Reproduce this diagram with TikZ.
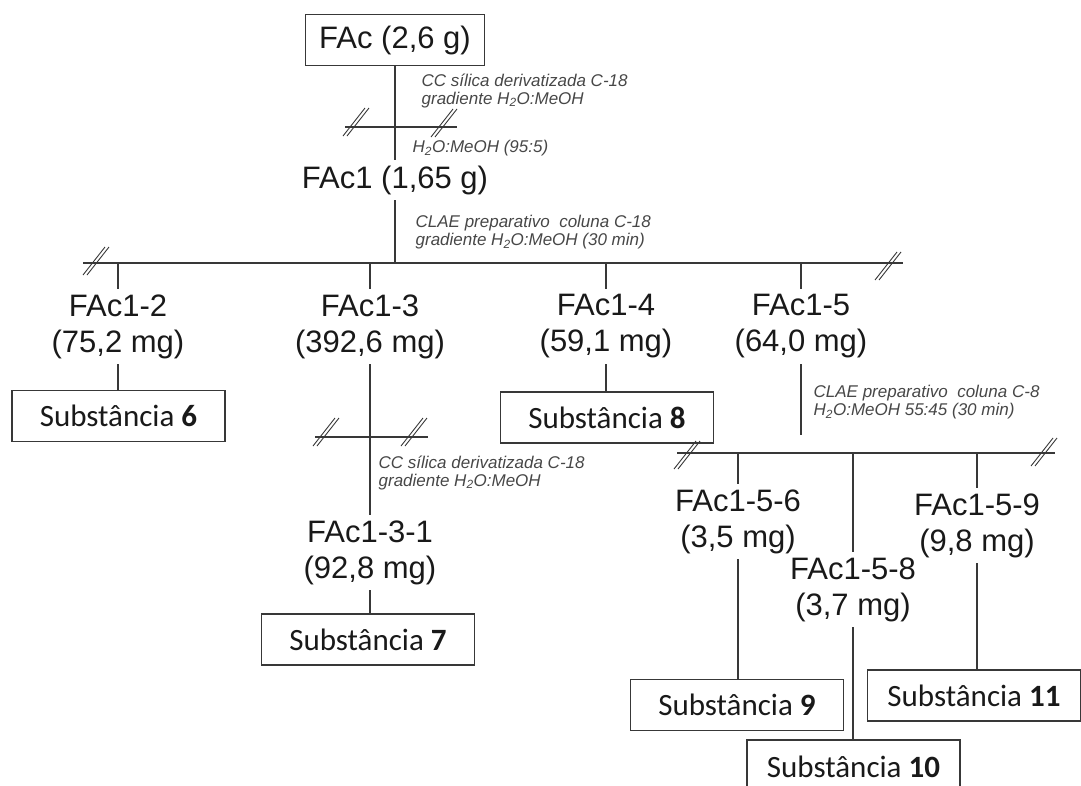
\documentclass[tikz,border=0pt]{standalone}
\usepackage{fontspec}
\setmainfont{Liberation Sans}
\newfontfamily\calibfont{Carlito}
\usetikzlibrary{positioning}

\begin{document}
\begin{tikzpicture}[x=1pt, y=-1pt, line width=1.3pt, color=black!78, >=stealth]

		% Styles
		\tikzset{
			frac/.style={align=center, anchor=north, inner xsep=2pt, inner ysep=5pt, text=black!90, font=\fontsize{31}{36}\selectfont},
			subst/.style={draw, line width=1.5pt, minimum width=213pt, minimum height=51pt, inner sep=0pt, text=black!90, font=\calibfont\fontsize{31}{34}\selectfont},
			note/.style={align=left, anchor=north west, inner sep=0pt, text=black!72, font=\fontsize{17}{18}\selectfont\itshape},
			brk/.pic={\draw[line width=0.9pt] (-13,14) -- (9,-14); \draw[line width=0.9pt] (-9,14) -- (13,-14);}
		}
		\useasboundingbox (0,0) rectangle (1081,785);

		% Nodes
		\node[draw, line width=1.5pt, minimum width=179pt, minimum height=51pt, text=black!90, font=\fontsize{31}{34}\selectfont] (fac) at (395,40) {FAc (2,6 g)};
		\node[frac] (fac1) at (395,160) {FAc1 (1,65 g)};

		\node[frac] (fac12) at (118,289) {FAc1-2\\(75,2 mg)};
		\node[frac] (fac13) at (370,289) {FAc1-3\\(392,6 mg)};
		\node[frac] (fac14) at (606,289) {FAc1-4\\(59,1 mg)};
		\node[frac] (fac15) at (801,289) {FAc1-5\\(64,0 mg)};
		\node[frac] (fac131) at (370,515) {FAc1-3-1\\(92,8 mg)};
		\node[frac] (fac156) at (738,484) {FAc1-5-6\\(3,5 mg)};
		\node[frac] (fac158) at (853,552) {FAc1-5-8\\(3,7 mg)};
		\node[frac] (fac159) at (977,488) {FAc1-5-9\\(9,8 mg)};

		\node[subst] (s6) at (118.5,416) {Substância \textbf{6}};
		\node[subst] (s7) at (368,639.5) {Substância \textbf{7}};
		\node[subst] (s8) at (607,417.5) {Substância \textbf{8}};
		\node[subst] (s9) at (737,705) {Substância \textbf{9}};
		\node[subst, minimum height=54pt] (s10) at (853.5,767) {Substância \textbf{10}};
		\node[subst] (s11) at (974,695.5) {Substância \textbf{11}};

		% Notes
		\node[note] (n1) at (421,73) {CC sílica derivatizada C-18\\gradiente H\textsubscript{2}O:MeOH};
		\node[note] (n2) at (412,140) {H\textsubscript{2}O:MeOH (95:5)};
		\node[note] (n3) at (415,215) {CLAE preparativo~ coluna C-18\\gradiente H\textsubscript{2}O:MeOH (30 min)};
		\node[note] (n4) at (378,455) {CC sílica derivatizada C-18\\gradiente H\textsubscript{2}O:MeOH};
		\node[note] (n5) at (813,385) {CLAE preparativo~ coluna C-8\\H\textsubscript{2}O:MeOH 55:45 (30 min)};

		% Bars
		\coordinate (cbtop) at (345,127);
		\coordinate (cbtopend) at (457,127);
		\coordinate (barl) at (83,263);
		\coordinate (barr) at (903,263);
		\coordinate (cbmid) at (315,437);
		\coordinate (cbmidend) at (428,437);
		\coordinate (bar2l) at (677,453);
		\coordinate (bar2r) at (1055,453);
		\coordinate (f15end) at (801,435);

		% Lines
		\draw (fac) -- (fac1);
		\draw (cbtop) -- (cbtopend);
		\draw (fac1) -- (fac1 |- barl);
		\draw (barl) -- (barr);
		\foreach \n in {fac12,fac13,fac14,fac15}
			\draw (\n |- barl) -- (\n);
		\draw (fac12) -- (fac12 |- s6.north);
		\draw (fac14) -- (fac14 |- s8.north);
		\draw (fac13) -- (fac131);
		\draw (cbmid) -- (cbmidend);
		\draw (fac131) -- (fac131 |- s7.north);
		\draw (fac15) -- (f15end);
		\draw (bar2l) -- (bar2r);
		\foreach \n in {fac156,fac158,fac159}
			\draw (\n |- bar2l) -- (\n);
		\draw (fac156) -- (fac156 |- s9.north);
		\draw (fac158) -- (fac158 |- s10.north);
		\draw (fac159) -- (fac159 |- s11.north);

		% Breaks
		\pic at (356,122) {brk};
		\pic at (444,123) {brk};
		\pic at (96,261) {brk};
		\pic at (888,266) {brk};
		\pic at (326,432) {brk};
		\pic at (414,432) {brk};
		\pic at (687,455) {brk};
		\pic at (1044,452) {brk};

	\end{tikzpicture}
\end{document}
